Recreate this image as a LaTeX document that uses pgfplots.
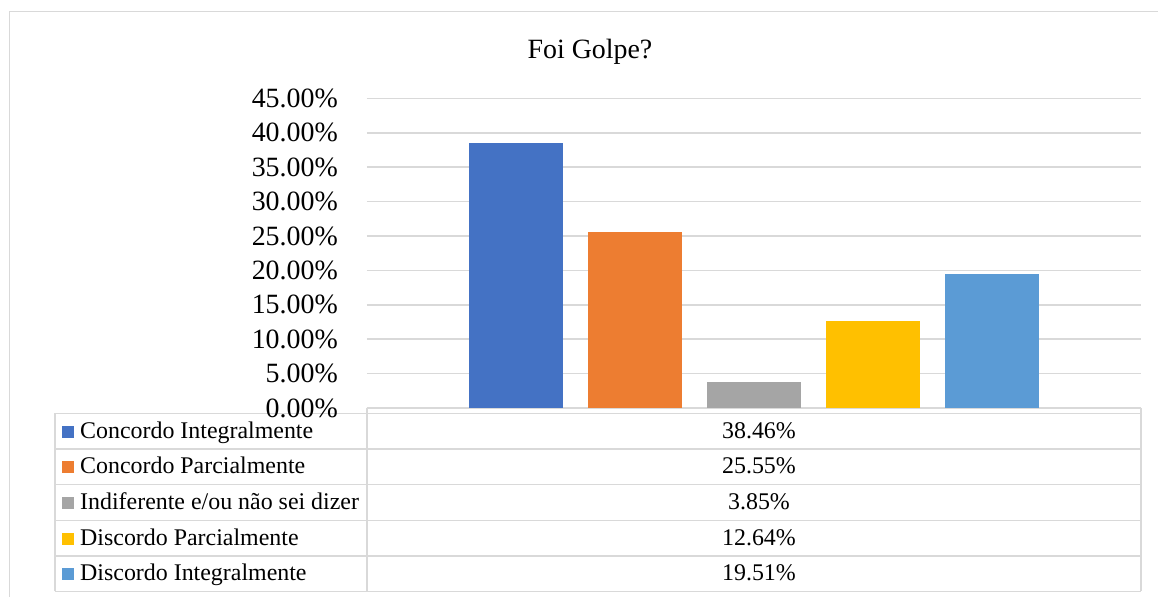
\documentclass[border=0pt]{standalone}
\usepackage{pgfplots}
\pgfplotsset{compat=1.18}
\usepackage{fontspec}
\setmainfont{Liberation Serif}
\definecolor{c1}{HTML}{4472C4}
\definecolor{c2}{HTML}{ED7D31}
\definecolor{c3}{HTML}{A5A5A5}
\definecolor{c4}{HTML}{FFC000}
\definecolor{c5}{HTML}{5B9BD5}
\definecolor{gridc}{RGB}{217,217,217}
\begin{document}
\begin{tikzpicture}[x=1bp,y=1bp]
\clip (-367,-189) rectangle (791,408);
\fill[white] (-367,-189) rectangle (791,408);
\draw[gridc, line width=1.5bp] (-357.5,-260) rectangle (850,396.5);
% data table lines (behind tick labels)
\begin{scope}[gridc, line width=1.5bp]
\draw (0,0) -- (774,0);
\foreach \k in {0,...,5} {
  \draw (-312,{-5.5-35.6*\k}) -- (774,{-5.5-35.6*\k});
}
\draw (-312,-5.5) -- (-312,-183.5);
\draw (0,0) -- (0,-183.5);
\draw (774,0) -- (774,-183.5);
\end{scope}
\begin{axis}[
  at={(0,0)}, anchor=south west,
  scale only axis, width=774bp, height=309.6bp,
  xmin=-1, xmax=1, ymin=0, ymax=45,
  ybar=25bp, bar width=94bp,
  xtick=\empty,
  ytick={0,5,...,45},
  yticklabel={\pgfmathprintnumber[fixed,fixed zerofill,precision=2]{\tick}\%},
  /pgf/number format/assume math mode=true,
  yticklabel style={font=\fontsize{28}{28}\selectfont, inner sep=0pt, xshift=-29bp},
  major tick length=0pt,
  ymajorgrids, grid style={gridc, line width=1.5bp},
  axis line style={draw=none},
]
\addplot[fill=c1, draw=none] coordinates {(0,38.46)};
\addplot[fill=c2, draw=none] coordinates {(0,25.55)};
\addplot[fill=c3, draw=none] coordinates {(0,3.85)};
\addplot[fill=c4, draw=none] coordinates {(0,12.64)};
\addplot[fill=c5, draw=none] coordinates {(0,19.51)};
\end{axis}
\node[anchor=base, font=\fontsize{28}{28}\selectfont] at (223,349) {Foi Golpe?};
\foreach \k/\c/\lab/\val in {0/c1/{Concordo Integralmente}/{38.46\%},
  1/c2/{Concordo Parcialmente}/{25.55\%},
  2/c3/{Indiferente e/ou não sei dizer}/{3.85\%},
  3/c4/{Discordo Parcialmente}/{12.64\%},
  4/c5/{Discordo Integralmente}/{19.51\%}} {
  \pgfmathsetmacro{\cy}{-5.5-35.6*(\k+0.5)}
  \fill[\c] (-304.5,\cy-6.5) rectangle (-292.5,\cy+5.5);
  \node[anchor=base west, inner sep=0pt, font=\fontsize{24}{24}\selectfont] at (-287,\cy-7) {\lab};
  \node[anchor=base, inner sep=0pt, font=\fontsize{24}{24}\selectfont] at (392,\cy-7) {\val};
}
\end{tikzpicture}
\end{document}
